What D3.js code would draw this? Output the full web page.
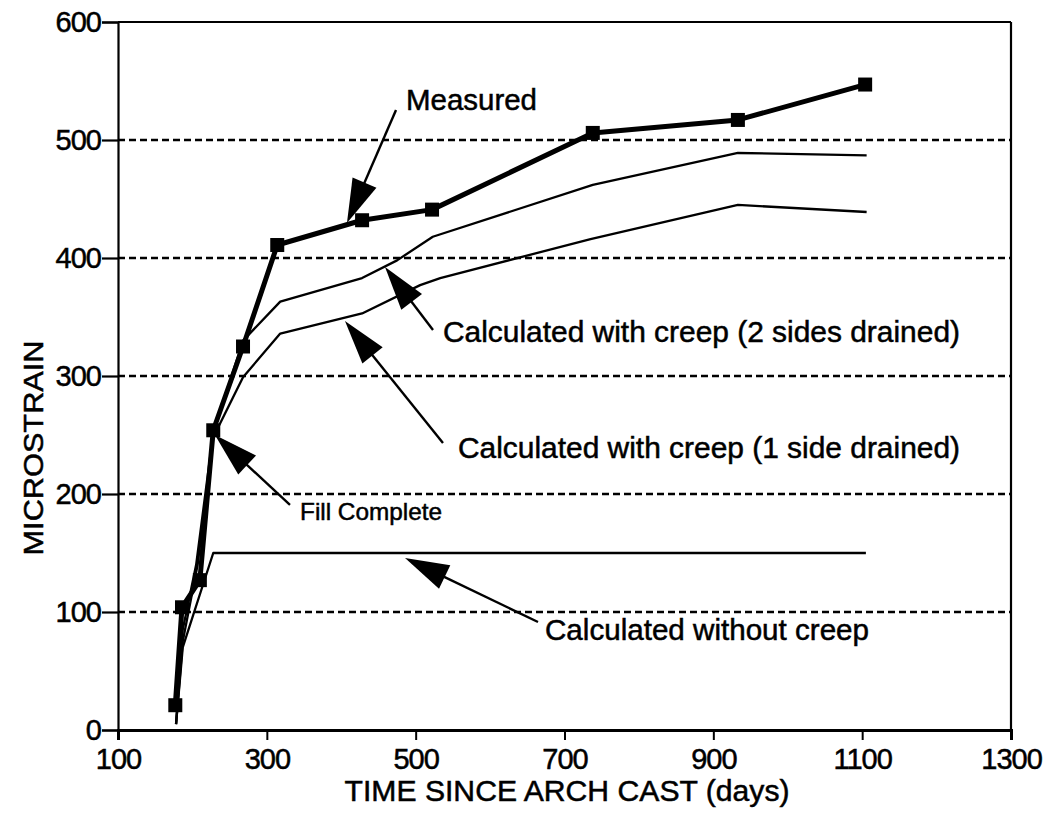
<!DOCTYPE html>
<html>
<head>
<meta charset="utf-8">
<script src="https://cdn.jsdelivr.net/npm/d3@7"></script>
<style>
  html, body { margin: 0; padding: 0; background: #fff; }
  svg { display: block; }
  text { font-family: "Liberation Sans", Arial, Helvetica, sans-serif; fill: #000; stroke: #000; stroke-width: 0.5px; }
</style>
</head>
<body>
<svg id="chart" width="1053" height="814"></svg>
<script>
// ---- data (days since arch cast, microstrain) ----
const measuredDays   = [177, 186, 210, 228, 268, 314, 428, 522, 738, 933, 1104];
const measuredValues = [21, 104, 127, 254, 325, 411, 432, 441, 506, 517, 547];

const twoSidesDays   = [178, 187, 205, 228, 268, 318, 428, 475, 523, 738, 933, 1106];
const twoSidesValues = [5, 85, 140, 252, 330, 363, 383, 398, 418, 462, 489, 487];

const oneSideDays    = [178, 187, 207, 228, 268, 318, 428, 506, 533, 735, 933, 1106];
const oneSideValues  = [5, 75, 140, 248, 299, 336, 353, 377, 383, 416, 445, 439];

const noCreepDays    = [178, 187, 228, 1105];
const noCreepValues  = [5, 70, 150, 150];

const xTicks = [100, 300, 500, 700, 900, 1100, 1300];
const yTicks = [0, 100, 200, 300, 400, 500, 600];
const gridValues = [100, 200, 300, 400, 500];

// annotation labels: text, text anchor point, arrow start, arrow tip (data units)
const annLabels = ["Measured", "Calculated with creep (2 sides drained)", "Calculated with creep (1 side drained)", "Fill Complete", "Calculated without creep"];
const annTextPos = [[487, 525.4], [536.7, 328.8], [556.9, 230.5], [344.6, 178], [673.8, 76.3]];
const annFrom    = [[473.6, 525.4], [523.3, 339], [536.7, 243.2], [331.1, 190.7], [664.4, 91.5]];
const annTip     = [[407.7, 429.7], [458.8, 392.4], [405, 346.6], [230.3, 250], [485.7, 145.8]];
const annSize    = [29, 29, 29, 24, 29];
const annWidth   = [131, 517, 502, 142, 324];

// ---- drawing ----
const svg = d3.select("#chart");
const x = d3.scaleLinear().domain([100, 1300]).range([118, 1011]);
const y = d3.scaleLinear().domain([0, 600]).range([730, 22]);

// grid lines
svg.append("g").selectAll("line").data(gridValues).join("line")
  .attr("x1", x(100)).attr("x2", x(1300))
  .attr("y1", d => y(d)).attr("y2", d => y(d))
  .attr("stroke", "#000").attr("stroke-width", 2.6)
  .attr("stroke-dasharray", "7,4");

// frame: top and right
svg.append("line").attr("x1", x(100)).attr("x2", x(1300)).attr("y1", y(600)).attr("y2", y(600))
  .attr("stroke", "#000").attr("stroke-width", 2.2);
svg.append("line").attr("x1", x(1300)).attr("x2", x(1300)).attr("y1", y(600)).attr("y2", y(0))
  .attr("stroke", "#000").attr("stroke-width", 2.2);

// axes
const xAxis = svg.append("g").attr("transform", `translate(0,${y(0)})`)
  .call(d3.axisBottom(x).tickValues(xTicks).tickSize(10).tickPadding(8).tickFormat(d3.format("d")));
const yAxis = svg.append("g").attr("transform", `translate(${x(100)},0)`)
  .call(d3.axisLeft(y).tickValues(yTicks).tickSize(16).tickPadding(1).tickFormat(d3.format("d")));
xAxis.select(".domain").attr("stroke-width", 3);
yAxis.select(".domain").attr("stroke-width", 2.2);
xAxis.selectAll(".tick line").attr("stroke-width", 2);
yAxis.selectAll(".tick line").attr("stroke-width", 2.2);
xAxis.selectAll("text").attr("font-size", 29).attr("letter-spacing", -1);
yAxis.selectAll("text").attr("font-size", 29).attr("letter-spacing", -1);
svg.selectAll(".tick text").style("font-family", '"Liberation Sans", Arial, sans-serif');

// axis titles
svg.append("text").attr("x", 567).attr("y", 801).attr("text-anchor", "middle")
  .attr("font-size", 29).attr("textLength", 445).attr("lengthAdjust", "spacingAndGlyphs")
  .text("TIME SINCE ARCH CAST (days)");
svg.append("text").attr("transform", "translate(43,448) rotate(-90)").attr("text-anchor", "middle")
  .attr("font-size", 28).attr("textLength", 215).attr("lengthAdjust", "spacingAndGlyphs")
  .text("MICROSTRAIN");

// lines
const line = d3.line().x(d => x(d[0])).y(d => y(d[1]));
const zip = (a, b) => a.map((v, i) => [v, b[i]]);

[[noCreepDays, noCreepValues], [oneSideDays, oneSideValues], [twoSidesDays, twoSidesValues]].forEach(([dd, vv]) => {
  svg.append("path").datum(zip(dd, vv)).attr("d", line)
    .attr("fill", "none").attr("stroke", "#000").attr("stroke-width", 2.3).attr("stroke-linejoin", "round");
});

const measured = zip(measuredDays, measuredValues);
svg.append("path").datum(measured).attr("d", line)
  .attr("fill", "none").attr("stroke", "#000").attr("stroke-width", 5).attr("stroke-linejoin", "round");
svg.append("g").selectAll("rect").data(measured).join("rect")
  .attr("x", d => x(d[0]) - 7).attr("y", d => y(d[1]) - 7)
  .attr("width", 14).attr("height", 14).attr("fill", "#000");

// annotations
const ann = svg.append("g");
annLabels.forEach((t, i) => {
  const fx = x(annFrom[i][0]), fy = y(annFrom[i][1]);
  const tx = x(annTip[i][0]), ty = y(annTip[i][1]);
  const dx = tx - fx, dy = ty - fy, len = Math.hypot(dx, dy);
  const ux = dx / len, uy = dy / len;
  const headL = 44, headW = 13;
  const bx = tx - ux * headL, by = ty - uy * headL;
  ann.append("line").attr("x1", fx).attr("y1", fy).attr("x2", bx + ux * 4).attr("y2", by + uy * 4)
    .attr("stroke", "#000").attr("stroke-width", 2.4);
  ann.append("path")
    .attr("d", `M${tx},${ty} L${bx - uy * headW},${by + ux * headW} L${bx + uy * headW},${by - ux * headW} Z`)
    .attr("fill", "#000");
  ann.append("text").attr("x", x(annTextPos[i][0])).attr("y", y(annTextPos[i][1]))
    .attr("font-size", annSize[i]).attr("textLength", annWidth[i]).attr("lengthAdjust", "spacingAndGlyphs")
    .text(t);
});
</script>
</body>
</html>
